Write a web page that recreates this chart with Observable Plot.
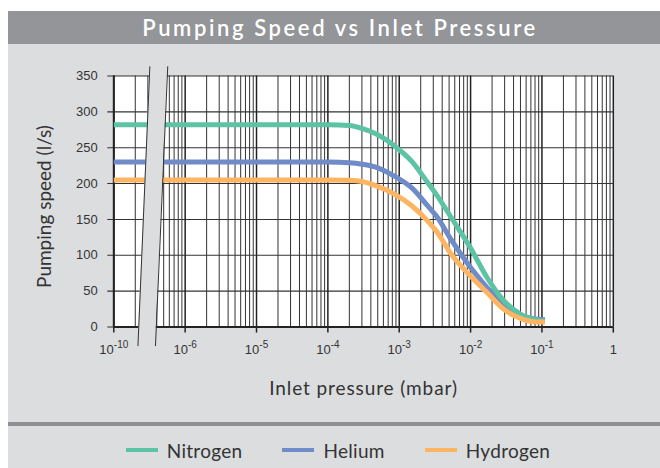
<!DOCTYPE html>
<html><head><meta charset="utf-8">
<script src="https://cdn.jsdelivr.net/npm/d3@7"></script>
<script src="https://cdn.jsdelivr.net/npm/@observablehq/plot@0.6"></script>
<style>
html,body{margin:0;padding:0;background:#fff;}
#page{position:relative;width:660px;height:468px;overflow:hidden;}
#panel{position:absolute;left:8px;top:11px;width:664px;height:457px;background:#dcdddf;}
#title{position:absolute;left:8px;top:11px;width:664px;height:33px;background:#939598;color:#fff;font:600 22px Lato,sans-serif;letter-spacing:2.6px;text-align:center;line-height:33px;}
#chart{position:absolute;left:0;top:44px;}
#sep{position:absolute;left:8px;top:422px;width:664px;height:4px;background:#8e8f92;}
#legend{position:absolute;left:8px;top:432px;width:660px;height:36px;display:flex;justify-content:center;align-items:center;font:19px Lato,sans-serif;letter-spacing:0.3px;color:#333;}
.item{display:flex;align-items:center;margin:0 20px;}
.sw{width:32px;height:4px;margin-right:9px;}
</style></head><body>
<div id="page"><div id="panel"></div><div id="title">Pumping Speed vs Inlet Pressure</div><div id="chart"></div><div id="sep"></div><div id="legend"></div></div>
<script>
// ---- data ----
const pressure = [1e-10, 1e-4, 2e-4, 3e-4, 5e-4, 8.7e-4, 1.5e-3, 2.6e-3, 3.3e-3, 5.4e-3, 1e-2, 1.7e-2, 2.9e-2, 5e-2, 8.6e-2, 0.11];
const nitrogen = [282, 282, 281, 277, 268, 252, 231, 199, 185, 152, 110, 69, 37, 18, 10, 8];
const helium   = [230, 230, 229, 227, 222, 210, 194, 167, 155, 121, 83, 55, 30, 16, 11, 10];
const hydrogen = [205, 205, 204.5, 203, 196, 185, 169, 146, 134, 101, 71, 48, 25, 12, 7, 7];
const gases = ["Nitrogen", "Helium", "Hydrogen"];
const gasColors = ["#5cc3a4", "#6f8bc8", "#fdb562"];
const yTicks = [0, 50, 100, 150, 200, 250, 300, 350];
const xTicks = [1e-10, 1e-6, 1e-5, 1e-4, 1e-3, 1e-2, 1e-1, 1];
const xTickLabels = ["10^-10", "10^-6", "10^-5", "10^-4", "10^-3", "10^-2", "10^-1", "1"];
const leftMinor = [2e-10, 3e-10];
const yTitle = "Pumping speed (l/s)";
const xTitle = "Inlet pressure (mbar)";

// broken axis: 1e-10..~3e-10 is drawn where 1e-7..3e-7 would be
const disp = p => p < 1e-8 ? p * 1e3 : p;

const minorGrid = [...leftMinor];
for (let e = -7; e < 0; e++) for (let m = 2; m <= 9; m++) {
  const v = m * Math.pow(10, e);
  if (v >= 4e-7) minorGrid.push(v);
}

const series = {Nitrogen: nitrogen, Helium: helium, Hydrogen: hydrogen};
const drawOrder = ["Helium", "Nitrogen", "Hydrogen"];
const rows = drawOrder.flatMap(g => pressure.map((p, i) => ({gas: g, p, speed: series[g][i]})));

const bandFill = [{y: 363, x1: 3.2e-7, x2: 5.7e-7}, {y: -26, x1: 2.18e-7, x2: 3.84e-7}];

const chart = Plot.plot({
  width: 660, height: 378,
  marginLeft: 113.3, marginRight: 47.2, marginTop: 31.5, marginBottom: 95.5,
  style: {background: "transparent", fontFamily: "'Liberation Sans', Arial, sans-serif", fontSize: "13px", overflow: "visible", color: "#333"},
  x: {type: "log", domain: [1e-7, 1], axis: null},
  y: {domain: [0, 350], axis: null},
  color: {domain: gases, range: gasColors},
  marks: [
    Plot.frame({fill: "white", stroke: null}),
    Plot.ruleX(minorGrid, {x: d => disp(d), stroke: "#333", strokeWidth: 1}),
    Plot.ruleY(yTicks, {y: d => d, stroke: "#333", strokeWidth: 1.1, insetLeft: -6}),
    Plot.ruleX(xTicks, {x: d => disp(d), stroke: "#222", strokeWidth: 1.5}),
    Plot.ruleX(xTicks, {x: d => disp(d), y1: 0, y2: -8.5, stroke: "#222", strokeWidth: 1.5}),
    Plot.ruleY([0], {stroke: "#222", strokeWidth: 2}),
    Plot.ruleX([1e-7], {stroke: "#222", strokeWidth: 2}),
    Plot.line(rows, {x: d => disp(d.p), y: "speed", z: "gas", stroke: "gas", strokeWidth: 5, curve: "monotone-x", strokeLinecap: "butt"}),
    Plot.areaX(bandFill, {y: "y", x1: "x1", x2: "x2", fill: "#dcdddf"}),
    Plot.line(bandFill, {x: "x1", y: "y", stroke: "#333", strokeWidth: 1}),
    Plot.line(bandFill, {x: "x2", y: "y", stroke: "#333", strokeWidth: 1}),
    Plot.text(yTicks, {y: d => d, frameAnchor: "left", dx: -16, textAnchor: "end", fill: "#333", fontSize: 13}),
    Plot.text(xTicks, {x: d => disp(d), y: 0, dy: 22.5, text: (d, i) => xTickLabels[i], fill: "#333", fontSize: 13}),
    Plot.text([xTitle], {frameAnchor: "bottom", lineAnchor: "middle", dy: 62, fontSize: 19, fontFamily: "Lato, sans-serif", fill: "#333"}),
    Plot.text([yTitle], {frameAnchor: "left", lineAnchor: "middle", dx: -69, dy: 5, rotate: -90, textAnchor: "middle", fontSize: 19, fontFamily: "Lato, sans-serif", fill: "#333"})
  ]
});

// superscript exponents, title spacing
d3.select(chart).selectAll("text").each(function() {
  const t = this.textContent;
  if (t === xTitle) d3.select(this).style("letter-spacing", "0.9px");
  if (t.includes("^")) {
    const [base, exp] = t.split("^");
    const sel = d3.select(this);
    sel.text(null);
    sel.append("tspan").text(base);
    sel.append("tspan").attr("dy", "-6").attr("font-size", "10").text(exp);
  }
});
document.getElementById("chart").appendChild(chart);

// legend
const legend = d3.select("#legend");
gases.forEach((g, i) => {
  const it = legend.append("div").attr("class", "item");
  it.append("div").attr("class", "sw").style("background", gasColors[i]);
  it.append("span").text(g);
});
</script>
</body></html>
